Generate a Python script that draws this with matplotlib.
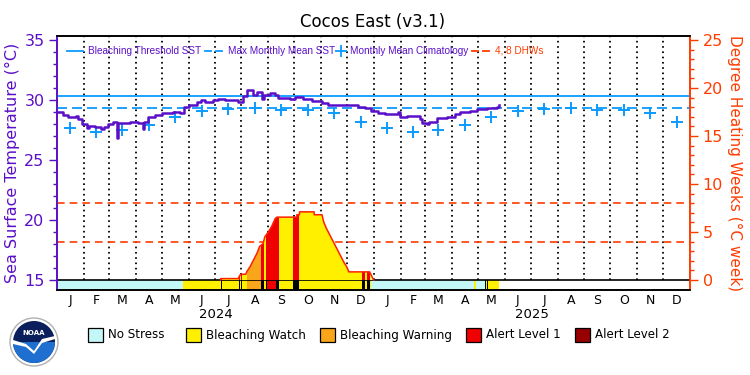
import numpy as np
import pandas as pd
import matplotlib
matplotlib.use("Agg")
import matplotlib.pyplot as plt
from matplotlib.patches import Polygon, Rectangle, Circle, Wedge

plt.rcParams['font.family'] = ['DejaVu Sans']
plt.rcParams['lines.scale_dashes'] = False
NARROW = ['Liberation Sans', 'DejaVu Sans']

# ---------------- data ----------------
title = "Cocos East (v3.1)"
month_letters = ["J", "F", "M", "A", "M", "J", "J", "A", "S", "O", "N", "D"]
years = ["2024", "2025"]

# daily SST (step breakpoints): day index since 2024-01-01, value in degC
sst_day = [0, 7, 13, 22, 24, 29, 35, 37, 44, 51, 54, 59, 65, 69, 70, 77, 84, 94, 99, 100,
           105, 113, 121, 127, 134, 142, 147, 152, 162, 166, 171, 180, 186, 194, 209, 215,
           219, 226, 231, 237, 239, 246, 252, 255, 269, 275, 284, 295, 306, 313, 325, 333,
           341, 348, 356, 363, 371, 379, 394, 396, 404, 419, 422, 427, 430, 439, 450, 460,
           465, 477, 485, 497, 508, 510]
sst_val = [29.0, 28.75, 28.6, 28.7, 28.4, 28.0, 27.65, 27.85, 27.75, 27.6, 27.75, 28.0, 28.15,
           26.8, 28.1, 28.05, 28.2, 28.1, 27.6, 28.15, 28.55, 28.75, 28.9, 28.95, 29.0, 28.9,
           29.4, 29.6, 29.8, 30.0, 29.85, 30.0, 30.1, 30.0, 29.85, 30.3, 30.8, 30.4, 30.65,
           30.1, 30.4, 30.6, 30.45, 30.15, 30.1, 30.25, 30.1, 29.9, 29.75, 29.6, 29.55, 29.6,
           29.55, 29.38, 29.33, 29.1, 28.95, 28.86, 29.0, 28.6, 28.67, 28.4, 28.1, 28.0, 28.2,
           28.5, 28.6, 28.87, 29.0, 29.1, 29.25, 29.35, 29.45, 29.55]

# monthly mean climatology (Jan..Dec)
clim = [27.7, 27.35, 27.5, 27.9, 28.55, 29.05, 29.25, 29.3, 29.2, 29.2, 28.95, 28.2]
mmm = 29.3
threshold = 30.3
dhw_levels = [4, 8]

# Degree heating weeks outline (day, value)
dhw_day = [189, 189, 210, 210, 212, 218, 219, 223, 227, 231, 234, 238, 240, 244, 248, 252, 254,
           277, 277, 280, 280, 297, 297, 306, 308, 311, 315, 319, 323, 327, 331, 335, 337, 361,
           363, 365, 366]
dhw_val = [0, 0.15, 0.15, 0.3, 0.6, 0.6, 0.85, 1.4, 2.1, 2.8, 3.5, 3.8, 4.5, 5.0, 5.6, 6.4, 6.55,
           6.55, 6.8, 6.8, 7.1, 7.1, 6.8, 6.8, 6.05, 5.4, 4.7, 4.0, 3.3, 2.6, 1.9, 1.3, 0.85,
           0.85, 0.5, 0.1, 0.0]

# stress level segments (start day, end day, level)
seg_start = [0, 145, 146, 189, 190, 210, 211, 213, 214, 219, 236, 239, 241, 242, 253, 256, 273,
             280, 352, 356, 358, 361, 363, 481, 482, 484, 494, 495, 496, 498]
seg_end = [145, 146, 189, 190, 210, 211, 213, 214, 219, 236, 239, 241, 242, 253, 256, 273, 280,
           352, 356, 358, 361, 363, 481, 482, 484, 494, 495, 496, 498, 510]
seg_level = ["none", "gap", "watch", "gap", "watch", "gap", "watch", "gap", "watch", "warning",
             "gap", "watch", "gap", "alert1", "gap", "watch", "gap", "watch", "gap", "watch",
             "gap", "watch", "none", "gap", "watch", "none", "gap", "watch", "gap", "watch"]

legend_names = ["No Stress", "Bleaching Watch", "Bleaching Warning", "Alert Level 1", "Alert Level 2"]

# ---------------- styles ----------------
PURPLE = "#5a0fc8"
BLUE = "#0a9bff"
ORANGE = "#ff3c00"
level_colors = {"none": "#c4f8f8", "watch": "#fff000", "warning": "#f9a61a",
                "alert1": "#f00000", "alert2": "#960000", "gap": "#000000"}
fill_colors = {"none": "#c4f8f8", "watch": "#fff000", "warning": "#f9a61a",
               "alert1": "#f00000", "alert2": "#960000", "gap": "#f00000"}

W, H = 750, 375
fig = plt.figure(figsize=(W / 100, H / 100), dpi=100)

L, R, T, B = 57, 690, 36, 290
ax = fig.add_axes([L / W, 1 - B / H, (R - L) / W, (B - T) / H])
ax2 = ax.twinx()

ylo, yhi = 14.17, 35.33
ax.set_ylim(ylo, yhi)
ax2.set_ylim((ylo - 15) * 1.25, (yhi - 15) * 1.25)

# month geometry
mstarts = pd.date_range("2024-01-01", "2026-01-01", freq="MS")
base = pd.Timestamp("2024-01-01")
mdays = np.array([(d - base).days for d in mstarts])
centers = (mdays[:-1] + mdays[1:]) / 2
ax.set_xlim(0, mdays[-1])

# dotted month lines
ax.vlines(mdays[1:-1], 15, yhi, colors="black", linestyles=(0, (1.2, 2.6)), linewidth=1.3, zorder=1)

# stress bar
bar_cols = [level_colors[l] for l in seg_level]
ax.bar(seg_start, height=15 - ylo, bottom=ylo, width=np.array(seg_end) - np.array(seg_start),
       align="edge", color=bar_cols, linewidth=0, zorder=2)
ax.axhline(15, color="black", lw=1.2, zorder=3)

# threshold / MMM
ax.axhline(threshold, color=BLUE, lw=1.3, zorder=3)
ax.axhline(mmm, color=BLUE, lw=1.3, dashes=(7.2, 3.6), zorder=3)

# climatology crosses
clim2 = clim + clim
ax.plot(centers, clim2, linestyle="none", marker="+", ms=9, mew=1.4, color=BLUE, zorder=4)

# SST line
ax.plot(sst_day, sst_val, drawstyle="steps-post", color=PURPLE, lw=1.8, zorder=5)

# DHW lines
for lv in dhw_levels:
    ax2.axhline(lv, color=ORANGE, lw=1.2, dashes=(5.5, 3.6), zorder=1)

# DHW filled area coloured by stress level
poly = Polygon(np.column_stack([dhw_day, dhw_val]), closed=True, transform=ax2.transData)
fbars = ax2.bar(seg_start, height=30, bottom=0, width=np.array(seg_end) - np.array(seg_start),
                align="edge", color=[fill_colors[l] for l in seg_level], linewidth=0, zorder=2)
for rect in fbars:
    rect.set_clip_path(poly)
ax2.plot(dhw_day, dhw_val, color="#ff2000", lw=1.1, zorder=3)

# axes styling
ax.set_yticks([15, 20, 25, 30, 35])
ax.set_yticks(np.arange(15, 36, 1), minor=True)
ax.tick_params(axis="y", which="major", length=6, width=1, colors=PURPLE, labelsize=11.5, pad=3)
ax.tick_params(axis="y", which="minor", length=3, width=1, colors=PURPLE)
ax.set_xticks(centers)
ax.set_xticklabels(month_letters * 2, fontsize=9)
ax.tick_params(axis="x", length=0, pad=3)

ax2.set_yticks([0, 5, 10, 15, 20, 25])
ax2.set_yticks(np.arange(0, 26, 1), minor=True)
ax2.tick_params(axis="y", which="major", length=6, width=1, colors=ORANGE, labelsize=11.5, pad=3)
ax2.tick_params(axis="y", which="minor", length=3, width=1, colors=ORANGE)

for a in (ax, ax2):
    a.spines["left"].set_color(PURPLE)
    a.spines["right"].set_color(ORANGE)
    a.spines["top"].set_color("black")
    a.spines["bottom"].set_color("black")
    for s in a.spines.values():
        s.set_linewidth(1.2)

ax.set_ylabel("Sea Surface Temperature (°C)", color=PURPLE, fontsize=11.5, labelpad=3)
ax2.set_ylabel("Degree Heating Weeks (°C week)", color=ORANGE, fontsize=11, rotation=270,
               labelpad=14)

# ---------------- overlay in pixel coords ----------------
ov = fig.add_axes([0, 0, 1, 1], zorder=10)
ov.set_xlim(0, W)
ov.set_ylim(H, 0)
ov.axis("off")
ov.patch.set_alpha(0)

ov.text(373, 22, title, ha="center", va="center", fontsize=12, color="black")

ly = 50.5
fs = 7.2
ov.plot([67, 83], [ly, ly], color=BLUE, lw=1.3)
ov.text(88, ly, "Bleaching Threshold SST", color=PURPLE, fontsize=fs, va="center", family=NARROW)
ov.plot([205, 211], [ly, ly], color=BLUE, lw=1.3)
ov.plot([216, 222], [ly, ly], color=BLUE, lw=1.3)
ov.text(228, ly, "Max Monthly Mean SST", color=PURPLE, fontsize=fs, va="center", family=NARROW)
ov.plot([341], [ly], marker="+", ms=8, mew=1.3, color=BLUE)
ov.text(350, ly, "Monthly Mean Climatology", color=PURPLE, fontsize=fs, va="center", family=NARROW)
ov.plot([472, 478], [ly, ly], color=ORANGE, lw=1.3)
ov.plot([483, 489], [ly, ly], color=ORANGE, lw=1.3)
ov.text(495, ly, "4, 8 DHWs", color=ORANGE, fontsize=fs, va="center", family=NARROW)

# year labels
ov.text(216, 315, years[0], ha="center", va="center", fontsize=9.5)
ov.text(532, 315, years[1], ha="center", va="center", fontsize=9.5)

# bottom legend
box_x = [88, 186, 320, 466, 575]
box_keys = ["none", "watch", "warning", "alert1", "alert2"]
by = 335
for bx, key, name in zip(box_x, box_keys, legend_names):
    ov.add_patch(Rectangle((bx, by - 7), 15, 14, facecolor=level_colors[key], edgecolor="black", lw=0.9))
    ov.text(bx + 20, by, name, fontsize=8.6, va="center", ha="left")

# NOAA-like logo
cx, cy = 34, 342
ov.add_patch(Circle((cx, cy), 24, facecolor="white", edgecolor="#b0b0b0", lw=1))
ov.add_patch(Circle((cx, cy), 21, facecolor="#0b1f5c", edgecolor="none"))
ov.add_patch(Wedge((cx, cy), 21, 0, 180, facecolor="#1e6fd0", edgecolor="none"))
ov.add_patch(Polygon([[cx - 21, cy - 2], [cx - 8, cy + 2], [cx, cy + 9], [cx + 8, cy - 3],
                      [cx + 21, cy - 6], [cx + 21, cy - 3], [cx + 8, cy + 1], [cx, cy + 12],
                      [cx - 8, cy + 5], [cx - 21, cy + 2]], closed=True,
                     facecolor="white", edgecolor="none"))
ov.text(cx, cy - 9, "NOAA", color="white", fontsize=5, ha="center", va="center", fontweight="bold")

fig.savefig("out.png", dpi=100)
